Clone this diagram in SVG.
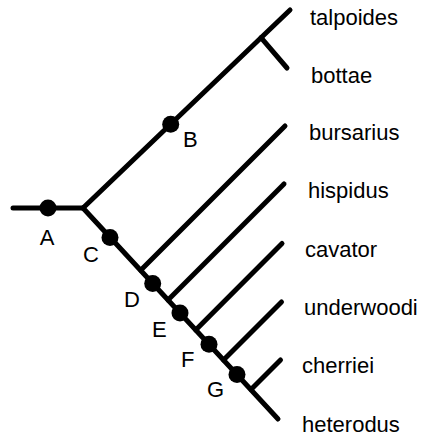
<svg xmlns="http://www.w3.org/2000/svg" width="428" height="441" viewBox="0 0 428 441">
<style>
.br{stroke:#000;stroke-width:5;stroke-linecap:round;fill:none}
.dot{fill:#000}
text{font-family:"Liberation Sans",Arial,sans-serif;font-size:22px;fill:#000}
</style>
<rect width="428" height="441" fill="#fff"/>
<g id="connectors">
<line class="br" x1="13" y1="208" x2="83" y2="208"/>
<line class="br" x1="83" y1="208" x2="290" y2="10"/>
<line class="br" x1="261" y1="37.7" x2="287" y2="68"/>
<line class="br" x1="83" y1="208" x2="278" y2="419"/>
<line class="br" x1="140.7" y1="270.3" x2="285" y2="126"/>
<line class="br" x1="168" y1="300" x2="284" y2="184"/>
<line class="br" x1="195.7" y1="329.9" x2="282" y2="243.5"/>
<line class="br" x1="223.5" y1="359.9" x2="281.5" y2="302"/>
<line class="br" x1="251" y1="389.4" x2="280.5" y2="360"/>
</g>
<g id="A"><circle class="dot" cx="48" cy="208" r="8.5"/><text x="47" y="245" text-anchor="middle">A</text></g>
<g id="B"><circle class="dot" cx="170.7" cy="124.2" r="8.5"/><text x="183" y="147">B</text></g>
<g id="C"><circle class="dot" cx="110" cy="237.5" r="8.5"/><text x="83" y="262">C</text></g>
<g id="D"><circle class="dot" cx="152.7" cy="283.5" r="8.5"/><text x="124" y="307">D</text></g>
<g id="E"><circle class="dot" cx="180" cy="313" r="8.5"/><text x="152" y="337">E</text></g>
<g id="F"><circle class="dot" cx="209" cy="344.3" r="8.5"/><text x="181" y="367">F</text></g>
<g id="G"><circle class="dot" cx="237" cy="374.6" r="8.5"/><text x="207" y="397">G</text></g>
<g id="talpoides"><text x="310" y="25">talpoides</text></g>
<g id="bottae"><text x="311" y="83">bottae</text></g>
<g id="bursarius"><text x="309" y="140">bursarius</text></g>
<g id="hispidus"><text x="308" y="198">hispidus</text></g>
<g id="cavator"><text x="305" y="257">cavator</text></g>
<g id="underwoodi"><text x="304" y="315">underwoodi</text></g>
<g id="cherriei"><text x="302" y="373">cherriei</text></g>
<g id="heterodus"><text x="302" y="432">heterodus</text></g>
</svg>
